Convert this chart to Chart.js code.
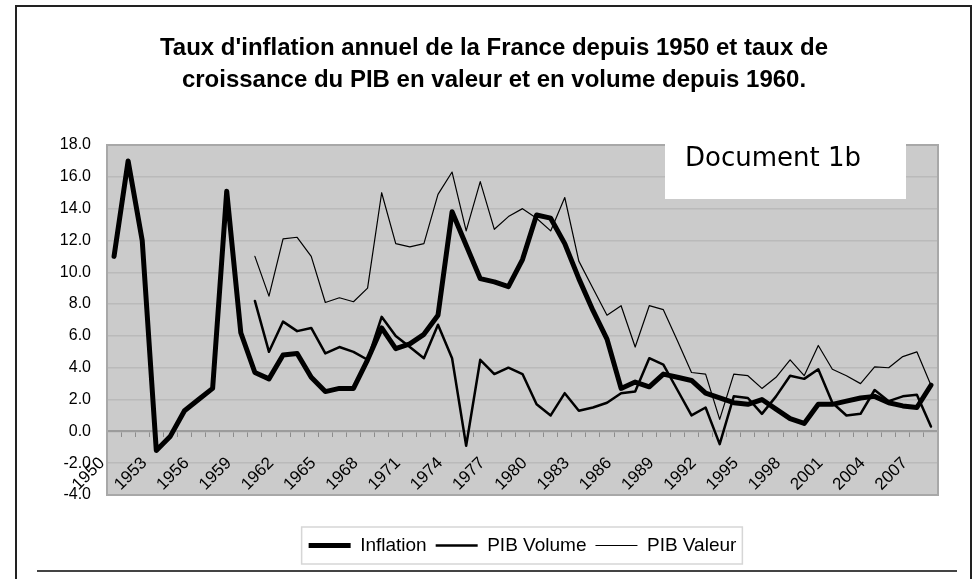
<!DOCTYPE html>
<html>
<head>
<meta charset="utf-8">
<script src="https://cdn.jsdelivr.net/npm/chart.js@4.4.0/dist/chart.umd.min.js"></script>
<style>
  html, body { margin: 0; padding: 0; background: #fff; }
  #wrap { position: relative; width: 977px; height: 579px; overflow: hidden; }
  #frame { position: absolute; left: 15px; top: 5px; width: 953px; height: 600px; border: 2px solid #222; }
  #rule { position: absolute; left: 37px; top: 570px; width: 920px; height: 0; border-top: 2px solid #444; }
  canvas { position: absolute; left: 0; top: 0; }
</style>
</head>
<body>
<div id="wrap">
  <div id="frame"></div>
  <div id="rule"></div>
  <canvas id="myChart" width="977" height="579"></canvas>
</div>
<script>
// years on the category axis
const years = [
  "1950", "1951", "1952", "1953", "1954", "1955", "1956", "1957", "1958", "1959",
  "1960", "1961", "1962", "1963", "1964", "1965", "1966", "1967", "1968", "1969",
  "1970", "1971", "1972", "1973", "1974", "1975", "1976", "1977", "1978", "1979",
  "1980", "1981", "1982", "1983", "1984", "1985", "1986", "1987", "1988", "1989",
  "1990", "1991", "1992", "1993", "1994", "1995", "1996", "1997", "1998", "1999",
  "2000", "2001", "2002", "2003", "2004", "2005", "2006", "2007", "2008",
];

// labels actually printed under the axis (one year out of three)
const shownYears = [
  "1950", "1953", "1956", "1959", "1962", "1965", "1968", "1971", "1974", "1977",
  "1980", "1983", "1986", "1989", "1992", "1995", "1998", "2001", "2004", "2007",
];

// inflation rate (%)
const inflation = [
  11.0, 17.0, 12.0, -1.2, -0.3, 1.3, 2.0, 2.7, 15.1, 6.2,
  3.7, 3.3, 4.8, 4.9, 3.4, 2.5, 2.7, 2.7, 4.5, 6.5,
  5.2, 5.5, 6.1, 7.3, 13.8, 11.7, 9.6, 9.4, 9.1, 10.8,
  13.6, 13.4, 11.8, 9.6, 7.6, 5.8, 2.7, 3.1, 2.8, 3.6,
  3.4, 3.2, 2.4, 2.1, 1.8, 1.7, 2.0, 1.4, 0.8, 0.5,
  1.7, 1.7, 1.9, 2.1, 2.2, 1.8, 1.6, 1.5, 2.9,
];

// GDP growth in volume (%), from 1960
const pibVolume = [
  null, null, null, null, null, null, null, null, null, null,
  8.2, 5.0, 6.9, 6.3, 6.5, 4.9, 5.3, 5.0, 4.5, 7.2,
  6.0, 5.3, 4.6, 6.7, 4.6, -0.9, 4.5, 3.6, 4.0, 3.6,
  1.7, 1.0, 2.4, 1.3, 1.5, 1.8, 2.4, 2.5, 4.6, 4.2,
  2.6, 1.0, 1.5, -0.8, 2.2, 2.1, 1.1, 2.2, 3.5, 3.3,
  3.9, 1.8, 1.0, 1.1, 2.6, 1.9, 2.2, 2.3, 0.3,
];

// GDP growth in value (%), from 1960
const pibValeur = [
  null, null, null, null, null, null, null, null, null, null,
  11.0, 8.5, 12.1, 12.2, 11.0, 8.1, 8.4, 8.15, 9.0, 15.0,
  11.8, 11.6, 11.8, 14.9, 16.3, 12.6, 15.7, 12.7, 13.5, 14.0,
  13.4, 12.6, 14.7, 10.7, 9.0, 7.3, 7.9, 5.3, 7.9, 7.65,
  5.7, 3.7, 3.6, 0.75, 3.6, 3.5, 2.7, 3.4, 4.5, 3.5,
  5.4, 3.9, 3.5, 3.0, 4.05, 4.0, 4.7, 5.0, 2.9,
];

const titleLines = [
  "Taux d'inflation annuel de la France depuis 1950 et taux de",
  "croissance du PIB en valeur et en volume depuis 1960.",
];

const tickFont = { family: "'Liberation Sans', Arial, sans-serif", size: 16 };

// grey plot area, its border, the "Document 1b" label and the legend frame
const decorPlugin = {
  id: "decor",
  beforeDraw(chart) {
    const { ctx, chartArea: a } = chart;
    ctx.save();
    ctx.fillStyle = "#cbcbcb";
    ctx.fillRect(a.left, a.top, a.right - a.left, a.bottom - a.top);
    ctx.restore();
  },
  beforeDatasetsDraw(chart) {
    const { ctx, chartArea: a } = chart;
    ctx.save();
    ctx.strokeStyle = "#a8a8a8";
    ctx.lineWidth = 2;
    ctx.strokeRect(a.left, a.top, a.right - a.left, a.bottom - a.top);
    ctx.restore();
  },
  afterDraw(chart) {
    const ctx = chart.ctx;
    ctx.save();
    ctx.fillStyle = "#fff";
    ctx.fillRect(665, 143, 241, 56);
    ctx.fillStyle = "#000";
    ctx.font = "26px 'DejaVu Sans', sans-serif";
    ctx.textBaseline = "alphabetic";
    ctx.fillText("Document 1b", 685, 166);

    const boxes = chart.legend.legendHitBoxes;
    if (boxes.length) {
      const first = boxes[0];
      const last = boxes[boxes.length - 1];
      const left = first.left - 7;
      const right = last.left + last.width + 6;
      const top = first.top - 9;
      const bottom = first.top + first.height + 9;
      ctx.strokeStyle = "#d6d6d6";
      ctx.lineWidth = 1.5;
      ctx.strokeRect(left, top, right - left, bottom - top);
    }
    ctx.restore();
  },
};

const ctx = document.getElementById("myChart").getContext("2d");

const myChart = new Chart(ctx, {
  type: "line",
  data: {
    labels: years,
    datasets: [
      { label: "Inflation", data: inflation, borderColor: "#000", backgroundColor: "#000", borderWidth: 5 },
      { label: "PIB Volume", data: pibVolume, borderColor: "#000", backgroundColor: "#000", borderWidth: 2.5 },
      { label: "PIB Valeur", data: pibValeur, borderColor: "#000", backgroundColor: "#000", borderWidth: 1.2 },
    ],
  },
  options: {
    responsive: false,
    animation: false,
    devicePixelRatio: 1,
    elements: {
      line: { tension: 0, borderJoinStyle: "round", borderCapStyle: "round" },
      point: { radius: 0, hoverRadius: 0 },
    },
    layout: { padding: { top: 0, left: 50, right: 39, bottom: 14 } },
    scales: {
      x: {
        type: "category",
        offset: true,
        position: { y: 0 },
        grid: { offset: true, drawOnChartArea: false, drawTicks: true, tickLength: 5, color: "#8c8c8c", lineWidth: 1 },
        border: { color: "#9c9c9c", width: 2 },
        ticks: {
          autoSkip: false,
          minRotation: 45,
          maxRotation: 45,
          padding: 17,
          labelOffset: -12,
          color: "#000",
          font: { family: "'Liberation Sans', Arial, sans-serif", size: 17 },
          callback: function (value) {
            const year = this.getLabelForValue(value);
            return shownYears.includes(year) ? year : "";
          },
        },
      },
      y: {
        min: -4,
        max: 18,
        ticks: {
          stepSize: 2,
          padding: 16,
          color: "#000",
          font: tickFont,
          callback: (v) => v.toFixed(1),
        },
        grid: { color: "#bababa", lineWidth: 1.5, drawTicks: false },
        border: { display: false },
        afterFit(scale) {
          scale.width = 57;
        },
      },
    },
    plugins: {
      title: {
        display: true,
        text: titleLines,
        color: "#000",
        font: { family: "'Liberation Sans', Arial, sans-serif", size: 24, weight: "bold", lineHeight: 32 / 24 },
        padding: { top: 32, bottom: 49 },
      },
      legend: {
        display: true,
        position: "bottom",
        fullSize: false,
        title: { display: true, text: "", padding: { top: 31, bottom: 0 }, font: { size: 1, lineHeight: 1 } },
        labels: {
          usePointStyle: true,
          pointStyle: "line",
          pointStyleWidth: 42,
          boxWidth: 42,
          padding: 9,
          color: "#000",
          font: { family: "'Liberation Sans', Arial, sans-serif", size: 19 },
        },
      },
      tooltip: { enabled: false },
    },
  },
  plugins: [decorPlugin],
});
</script>
</body>
</html>
